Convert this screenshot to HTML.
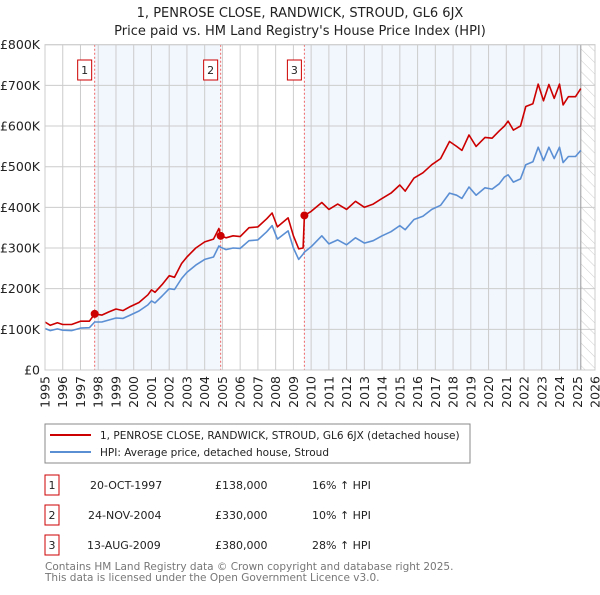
<!DOCTYPE html>
<html><head><meta charset="utf-8"><style>
body{margin:0;background:#fff;font-family:"Liberation Sans","DejaVu Sans",sans-serif}
svg text{font-family:"DejaVu Sans","Liberation Sans",sans-serif}
</style></head><body>
<svg id="c" width="600" height="590" viewBox="0 0 600 590">
<defs><pattern id="hatch" width="8" height="8" patternUnits="userSpaceOnUse" patternTransform="rotate(-45)"><line x1="0" y1="0" x2="0" y2="8" stroke="#ccc" stroke-width="1"/></pattern></defs>
<text x="300" y="17" text-anchor="middle" font-size="13" fill="#222">1, PENROSE CLOSE, RANDWICK, STROUD, GL6 6JX</text>
<text x="300" y="35" text-anchor="middle" font-size="13" fill="#222">Price paid vs. HM Land Registry's House Price Index (HPI)</text>
<g id="plot"></g>
<rect x="45" y="424" width="425" height="39" fill="#fff" stroke="#888"/>
<line x1="50" y1="435" x2="91" y2="435" stroke="#cc0000" stroke-width="2"/>
<text x="100" y="439" font-size="10.5" fill="#222">1, PENROSE CLOSE, RANDWICK, STROUD, GL6 6JX (detached house)</text>
<line x1="50" y1="452" x2="91" y2="452" stroke="#5b8fd4" stroke-width="2"/>
<text x="100" y="456" font-size="10.5" fill="#222">HPI: Average price, detached house, Stroud</text>
<g font-size="11" fill="#222">
<rect x="45" y="475" width="14" height="20" fill="#fff" stroke="#cc0000"/><text x="52" y="489" text-anchor="middle">1</text>
<text x="90" y="489">20-OCT-1997</text><text x="215" y="489">£138,000</text><text x="312" y="489">16% ↑ HPI</text>
<rect x="45" y="505" width="14" height="20" fill="#fff" stroke="#cc0000"/><text x="52" y="519" text-anchor="middle">2</text>
<text x="88" y="519">24-NOV-2004</text><text x="215" y="519">£330,000</text><text x="312" y="519">10% ↑ HPI</text>
<rect x="45" y="535" width="14" height="20" fill="#fff" stroke="#cc0000"/><text x="52" y="549" text-anchor="middle">3</text>
<text x="87" y="549">13-AUG-2009</text><text x="215" y="549">£380,000</text><text x="312" y="549">28% ↑ HPI</text>
</g>
<text x="45" y="570" font-size="10.5" fill="#777">Contains HM Land Registry data © Crown copyright and database right 2025.</text>
<text x="45" y="581" font-size="10.5" fill="#777">This data is licensed under the Open Government Licence v3.0.</text>
</svg>
<script>
const dates=[1995.0,1995.3,1995.7,1996.0,1996.5,1997.0,1997.5,1997.8,1998.2,1998.6,1999.0,1999.4,1999.8,2000.3,2000.8,2001.0,2001.2,2001.6,2002.0,2002.3,2002.7,2003.0,2003.5,2004.0,2004.5,2004.8,2004.9,2005.2,2005.6,2006.0,2006.5,2007.0,2007.5,2007.8,2008.1,2008.7,2009.0,2009.3,2009.55,2009.62,2010.0,2010.6,2011.0,2011.5,2012.0,2012.5,2013.0,2013.5,2014.0,2014.5,2015.0,2015.3,2015.8,2016.3,2016.8,2017.3,2017.8,2018.2,2018.5,2018.9,2019.3,2019.8,2020.2,2020.6,2020.9,2021.1,2021.4,2021.8,2022.1,2022.5,2022.8,2023.1,2023.4,2023.7,2024.0,2024.2,2024.5,2024.9,2025.2];
const hpiValues=[102,97,101,98,97,103,104,118,118,123,128,127,135,145,160,170,165,182,200,198,225,240,258,272,278,305,302,296,300,299,318,320,340,355,322,342,300,272,285,290,303,330,310,320,308,325,312,318,330,340,355,345,370,378,395,405,435,430,422,450,430,448,445,458,475,480,462,470,505,512,548,515,548,520,548,510,525,525,540];
const propertyValues=[118,110,116,112,112,120,120,138,135,143,150,146,156,166,185,197,191,210,232,228,262,278,300,315,322,348,330,325,330,328,350,352,372,386,352,374,330,298,300,380,390,412,395,408,395,415,400,408,422,435,455,440,472,485,505,520,562,550,540,578,550,572,570,588,600,612,590,600,648,655,703,662,702,668,703,652,672,672,692];
const saleDates=[1997.8,2004.9,2009.62];
const salePrices=[138,330,380];
const saleLabels=["1","2","3"];
const yTicks=[0,100,200,300,400,500,600,700,800];
const yTickLabels=["£0","£100K","£200K","£300K","£400K","£500K","£600K","£700K","£800K"];
const xYears=[1995,1996,1997,1998,1999,2000,2001,2002,2003,2004,2005,2006,2007,2008,2009,2010,2011,2012,2013,2014,2015,2016,2017,2018,2019,2020,2021,2022,2023,2024,2025,2026];
const dataEnd=2025.2;

const X0=45,X1=595,Y0=370,Y1=44.7;
const xs=t=>X0+(t-1995)/31*(X1-X0);
const ys=v=>Y0-v/800*(Y0-Y1);
const NS="http://www.w3.org/2000/svg";
const g=document.getElementById('plot');
function mk(tag,attrs){const e=document.createElementNS(NS,tag);for(const k in attrs)e.setAttribute(k,attrs[k]);g.appendChild(e);return e;}

let r=mk('rect',{x:xs(saleDates[0]),y:Y1,width:xs(saleDates[1])-xs(saleDates[0]),height:Y0-Y1,fill:'#f2f6fd'});


r=mk('rect',{x:xs(saleDates[2]),y:Y1,width:xs(dataEnd)-xs(saleDates[2]),height:Y0-Y1,fill:'#f2f6fd'});


r=mk('rect',{x:xs(dataEnd),y:Y1,width:X1-xs(dataEnd),height:Y0-Y1,fill:'url(#hatch)'});



xYears.forEach(yr=>{
  const l=mk('line',{x1:xs(yr),x2:xs(yr),y1:Y1,y2:Y0,stroke:'#ccc','stroke-width':1});
  
  
  const x=xs(yr);
  const t=mk('text',{x:0,y:0,'font-size':12.5,fill:'#222','text-anchor':'end',transform:`translate(${x+4.5},${Y0+6}) rotate(-90)`});
  t.textContent=yr;
  
  
});
yTicks.forEach((v,i)=>{
  const l=mk('line',{x1:X0,x2:X1,y1:ys(v),y2:ys(v),stroke:'#ccc','stroke-width':1});
  
  
  const t=mk('text',{x:40,y:ys(v)+4.5,'font-size':12.5,fill:'#222','text-anchor':'end'});
  t.textContent=yTickLabels[i];
  
  
});
const endl=mk('line',{x1:xs(dataEnd),x2:xs(dataEnd),y1:Y1,y2:Y0,stroke:'#999','stroke-width':1});



saleDates.forEach((d,i)=>{
  const l=mk('line',{x1:xs(d),x2:xs(d),y1:Y1,y2:Y0,stroke:'#e66','stroke-width':1,'stroke-dasharray':'2,2'});
  
  
  const b=mk('rect',{x:xs(d)-17,y:60,width:14,height:20,fill:'#fff',stroke:'#cc0000'});
  
  
  const t=mk('text',{x:xs(d)-10,y:74,'font-size':11,fill:'#222','text-anchor':'middle'});
  t.textContent=saleLabels[i];
  
  
});

const pts=vals=>dates.map((d,i)=>xs(d).toFixed(1)+','+ys(vals[i]).toFixed(1)).join(' ');
const hl=mk('polyline',{points:pts(hpiValues),fill:'none',stroke:'#5b8fd4','stroke-width':1.6,'stroke-linejoin':'round'});


const pl=mk('polyline',{points:pts(propertyValues),fill:'none',stroke:'#cc0000','stroke-width':1.6,'stroke-linejoin':'round'});


saleDates.forEach((d,i)=>{
  const c=mk('circle',{cx:xs(d),cy:ys(salePrices[i]),r:4,fill:'#cc0000'});
  
  
});
const bd=mk('rect',{x:X0,y:Y1,width:X1-X0,height:Y0-Y1,fill:'none',stroke:'#ccc'});


</script>
</body></html>
